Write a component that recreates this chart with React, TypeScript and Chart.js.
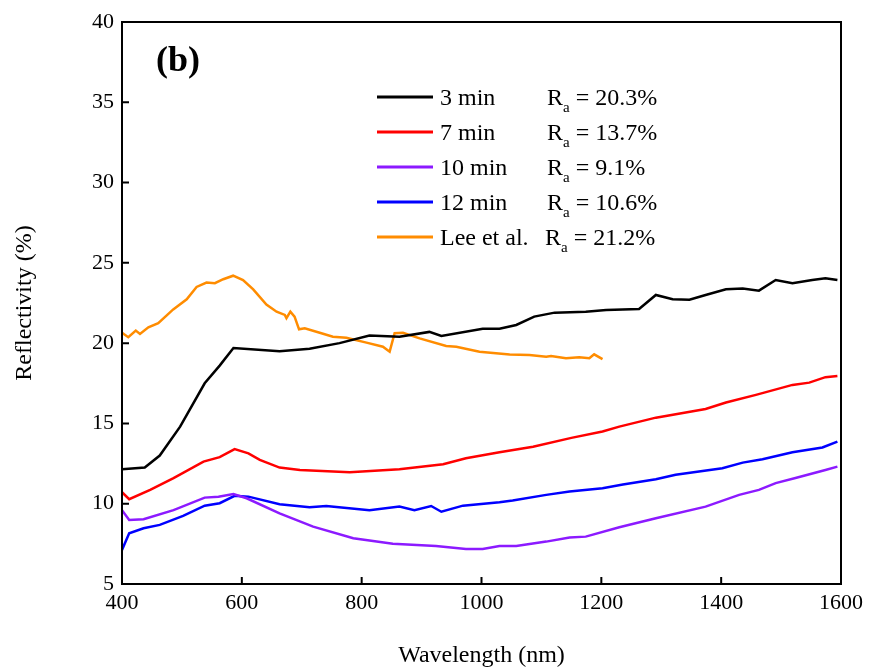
import React, { useEffect, useRef } from "react";
import { Chart, registerables } from "chart.js";

Chart.register(...registerables);

const black3X = [400, 438, 463, 497, 538, 563, 586, 663, 713, 763, 813, 863, 913, 933, 1002, 1030, 1058, 1088, 1122, 1174, 1208, 1263, 1291, 1319, 1347, 1374, 1408, 1436, 1463, 1491, 1519, 1552, 1574, 1594];
const black3Y = [12.15, 12.25, 13.0, 14.8, 17.5, 18.6, 19.7, 19.5, 19.65, 20.0, 20.47, 20.4, 20.7, 20.45, 20.9, 20.9, 21.13, 21.65, 21.9, 21.96, 22.07, 22.13, 23.0, 22.73, 22.7, 23.0, 23.35, 23.4, 23.27, 23.93, 23.73, 23.93, 24.04, 23.93];

const red7X = [400, 412, 447, 486, 536, 563, 588, 611, 630, 663, 697, 780, 863, 936, 974, 1030, 1086, 1150, 1202, 1230, 1291, 1374, 1408, 1458, 1519, 1547, 1574, 1594];
const red7Y = [10.72, 10.28, 10.86, 11.6, 12.62, 12.9, 13.4, 13.14, 12.73, 12.25, 12.1, 11.96, 12.15, 12.46, 12.83, 13.2, 13.55, 14.1, 14.5, 14.8, 15.36, 15.9, 16.3, 16.78, 17.4, 17.54, 17.88, 17.96];

const purple10X = [400, 412, 436, 486, 538, 561, 586, 608, 663, 719, 786, 852, 924, 974, 1002, 1030, 1058, 1108, 1147, 1174, 1230, 1291, 1374, 1430, 1463, 1491, 1524, 1574, 1594];
const purple10Y = [9.6, 8.99, 9.03, 9.6, 10.38, 10.44, 10.6, 10.34, 9.4, 8.57, 7.85, 7.5, 7.37, 7.18, 7.18, 7.37, 7.37, 7.64, 7.89, 7.95, 8.53, 9.1, 9.82, 10.55, 10.86, 11.28, 11.6, 12.1, 12.31];

const blue12X = [400, 412, 436, 463, 502, 538, 563, 588, 611, 663, 713, 741, 813, 863, 888, 916, 933, 969, 1030, 1052, 1108, 1147, 1202, 1236, 1291, 1324, 1402, 1436, 1469, 1519, 1569, 1594];
const blue12Y = [7.12, 8.16, 8.47, 8.68, 9.24, 9.88, 10.03, 10.49, 10.44, 9.97, 9.78, 9.86, 9.6, 9.82, 9.6, 9.86, 9.5, 9.88, 10.09, 10.2, 10.55, 10.76, 10.97, 11.2, 11.53, 11.8, 12.21, 12.56, 12.77, 13.2, 13.5, 13.87];

const leeX = [400, 410.5, 423, 430, 444, 460.5, 485.5, 508, 524.5, 541, 555, 569, 585.5, 602, 619, 641, 658, 671.7, 674.5, 681, 688, 695.5, 705, 730, 752, 774.5, 808, 835.5, 846.7, 855, 869, 896.7, 941, 958, 996.7, 1047, 1080, 1108, 1116, 1141, 1163, 1180, 1188, 1202];
const leeY = [20.65, 20.37, 20.78, 20.57, 20.99, 21.24, 22.1, 22.73, 23.5, 23.77, 23.73, 23.98, 24.2, 23.93, 23.35, 22.4, 21.96, 21.76, 21.55, 21.96, 21.65, 20.86, 20.93, 20.65, 20.4, 20.34, 20.03, 19.78, 19.47, 20.62, 20.65, 20.3, 19.82, 19.78, 19.47, 19.3, 19.26, 19.16, 19.2, 19.06, 19.12, 19.06, 19.3, 19.0];

const seriesNames = ["3 min", "7 min", "10 min", "12 min", "Lee et al."];
const raValues = ["= 20.3%", "= 13.7%", "= 9.1%", "= 10.6%", "= 21.2%"];
const seriesColors = ["#000000", "#ff0000", "#8c1aff", "#0000ff", "#ff8c00"];

const xTicks = [400, 600, 800, 1000, 1200, 1400, 1600];
const yTicks = [5, 10, 15, 20, 25, 30, 35, 40];

const toPoints = (xs: number[], ys: number[]) => xs.map((x, i) => ({ x, y: ys[i] }));

const SERIF = "'Liberation Serif', 'Times New Roman', serif";

const framePlugin = {
  id: "frameAndLegend",
  afterDraw(chart: any) {
    const { ctx, chartArea } = chart;
    const { left, right, top, bottom } = chartArea;
    const xs = chart.scales.x;
    const ys = chart.scales.y;
    ctx.save();
    ctx.strokeStyle = "#000";
    ctx.lineWidth = 2;
    ctx.strokeRect(left, top, right - left, bottom - top);
    ctx.beginPath();
    xTicks.forEach((v) => {
      const px = xs.getPixelForValue(v);
      ctx.moveTo(px, bottom);
      ctx.lineTo(px, bottom - 7);
    });
    yTicks.forEach((v) => {
      const py = ys.getPixelForValue(v);
      ctx.moveTo(left, py);
      ctx.lineTo(left + 7, py);
    });
    ctx.stroke();

    // panel label
    ctx.fillStyle = "#000";
    ctx.font = `bold 36px ${SERIF}`;
    ctx.textBaseline = "alphabetic";
    ctx.textAlign = "left";
    ctx.fillText("(b)", 156, 71);

    // legend
    const rowY0 = 97;
    const rowGap = 35;
    seriesNames.forEach((name, i) => {
      const y = rowY0 + i * rowGap;
      ctx.strokeStyle = seriesColors[i];
      ctx.lineWidth = 3;
      ctx.beginPath();
      ctx.moveTo(377, y);
      ctx.lineTo(433, y);
      ctx.stroke();
      ctx.fillStyle = "#000";
      ctx.font = `24px ${SERIF}`;
      ctx.fillText(name, 440, y + 8);
      const rx = i === 4 ? 545 : 547;
      ctx.fillText("R", rx, y + 8);
      const rw = ctx.measureText("R").width;
      ctx.font = `15px ${SERIF}`;
      ctx.fillText("a", rx + rw, y + 15);
      const aw = ctx.measureText("a").width;
      ctx.font = `24px ${SERIF}`;
      ctx.fillText(" " + raValues[i], rx + rw + aw, y + 8);
    });
    ctx.restore();
  },
};

export default function App() {
  const ref = useRef<HTMLCanvasElement | null>(null);
  useEffect(() => {
    document.body.style.margin = "0";
    if (!ref.current) return;
    const datasets = [
      toPoints(black3X, black3Y),
      toPoints(red7X, red7Y),
      toPoints(purple10X, purple10Y),
      toPoints(blue12X, blue12Y),
      toPoints(leeX, leeY),
    ].map((data, i) => ({
      label: seriesNames[i],
      data,
      borderColor: seriesColors[i],
      backgroundColor: seriesColors[i],
      borderWidth: 2.5,
      pointRadius: 0,
      tension: 0,
      fill: false,
    }));
    const chart = new Chart(ref.current, {
      type: "line",
      data: { datasets },
      options: {
        animation: false,
        responsive: true,
        maintainAspectRatio: false,
        layout: { padding: { left: 0, right: 27, top: 22, bottom: 0 } },
        plugins: { legend: { display: false }, tooltip: { enabled: false } },
        scales: {
          x: {
            type: "linear",
            min: 400,
            max: 1600,
            afterFit: (s: any) => { s.height = 87; },
            afterBuildTicks: (s: any) => { s.ticks = xTicks.map((v) => ({ value: v })); },
            grid: { display: false, drawTicks: false },
            border: { display: false },
            ticks: { color: "#000", font: { family: SERIF, size: 22 }, padding: 6, maxRotation: 0, callback: (v: any) => String(v) },
            title: { display: true, text: "Wavelength (nm)", color: "#000", font: { family: SERIF, size: 24 }, padding: { top: 0, bottom: 1 } },
          },
          y: {
            type: "linear",
            min: 5,
            max: 40,
            afterFit: (s: any) => { s.width = 122; },
            afterBuildTicks: (s: any) => { s.ticks = yTicks.map((v) => ({ value: v })); },
            grid: { display: false, drawTicks: false },
            border: { display: false },
            ticks: { color: "#000", font: { family: SERIF, size: 22 }, padding: 8, callback: (v: any) => String(v) },
            title: { display: true, text: "Reflectivity (%)", color: "#000", font: { family: SERIF, size: 24 }, padding: { top: 10, bottom: 0 } },
          },
        },
      },
      plugins: [framePlugin],
    } as any);
    return () => chart.destroy();
  }, []);
  return (
    <div style={{ width: 869, height: 671, position: "relative", background: "#fff" }}>
      <canvas ref={ref} />
    </div>
  );
}
